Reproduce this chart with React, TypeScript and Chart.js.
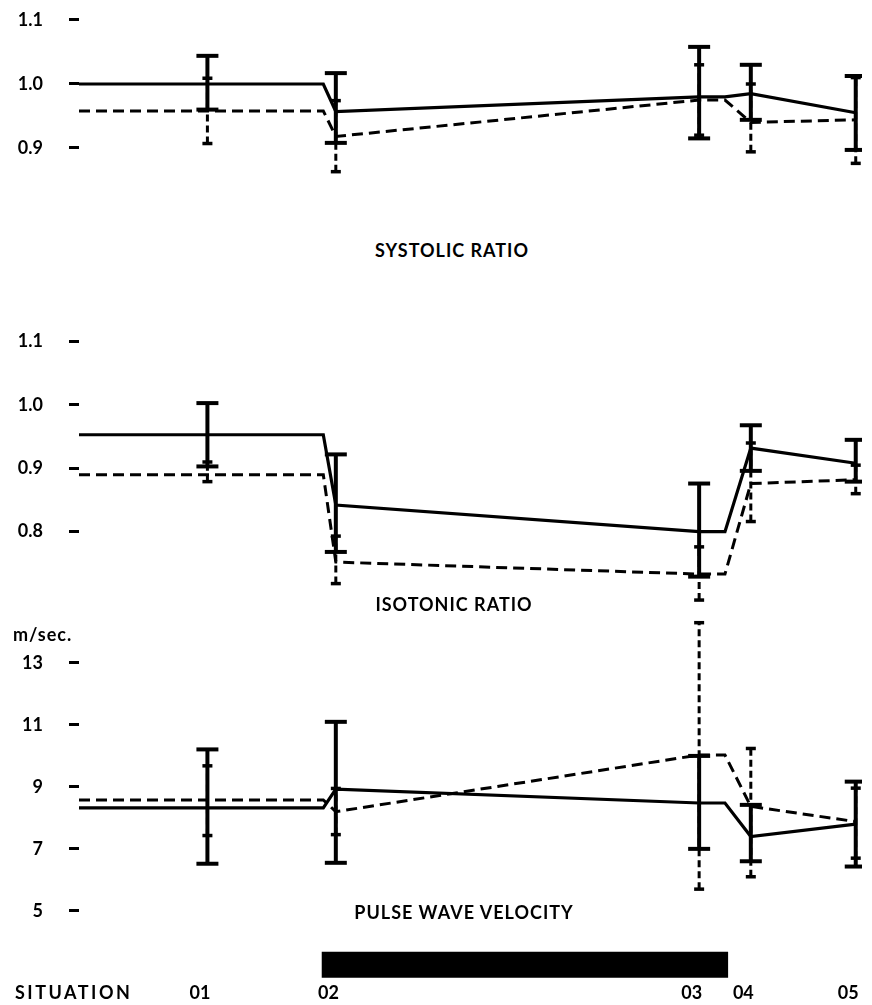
import React, { useEffect, useRef } from "react";
import { Chart, registerables } from "chart.js";

Chart.register(...registerables);

// ---- shared x data ----
const situations = ["01", "02", "03", "04", "05"];
const situationTime = [16.4, 32.8, 79.2, 85.8, 99.2];
const traceStart = 0;
const holdBefore2 = 31.2;
const holdAfter3 = 82.5;
const barStart = 31.0;
const barEnd = 82.9;
const barLevel = 3.26;

// ---- systolic ratio ----
const sysSolid = [1.0, 0.957, 0.98, 0.985, 0.955];
const sysSolidLow = [0.96, 0.908, 0.915, 0.944, 0.897];
const sysSolidHigh = [1.044, 1.017, 1.058, 1.03, 1.0125];
const sysDashed = [0.958, 0.918, 0.975, 0.94, 0.944];
const sysDashedLow = [0.907, 0.863, 0.92, 0.894, 0.876];
const sysDashedHigh = [1.009, 0.974, 1.03, 1.0, 1.01];
const sysTicks = [0.9, 1.0, 1.1];

// ---- isotonic ratio ----
const isoSolid = [0.953, 0.842, 0.8, 0.932, 0.908];
const isoSolidLow = [0.903, 0.768, 0.729, 0.896, 0.879];
const isoSolidHigh = [1.003, 0.922, 0.876, 0.968, 0.945];
const isoDashed = [0.89, 0.752, 0.733, 0.876, 0.882];
const isoDashedLow = [0.879, 0.718, 0.692, 0.816, 0.86];
const isoDashedHigh = [0.91, 0.793, 0.776, 0.94, 0.905];
const isoTicks = [0.8, 0.9, 1.0, 1.1];

// ---- pulse wave velocity (m/sec.) ----
const pwvSolid = [8.32, 8.93, 8.48, 7.4, 7.8];
const pwvSolidLow = [6.52, 6.55, 7.0, 6.6, 6.43];
const pwvSolidHigh = [10.21, 11.1, 10.0, 8.42, 9.17];
const pwvDashed = [8.58, 8.2, 10.03, 8.37, 7.88];
const pwvDashedLow = [7.43, 7.46, 5.7, 6.1, 6.7];
const pwvDashedHigh = [9.68, 8.95, 14.3, 10.24, 8.96];
const pwvTicks = [5, 7, 9, 11, 13];

const INK = "#000";
const FONT_FAMILY = "Lato, 'DejaVu Sans', sans-serif";
const tickFont = { family: FONT_FAMILY, size: 18, weight: "bold" as const };

function trace(v: number[]) {
  return [
    { x: traceStart, y: v[0] },
    { x: situationTime[0], y: v[0] },
    { x: holdBefore2, y: v[0] },
    { x: situationTime[1], y: v[1] },
    { x: situationTime[2], y: v[2] },
    { x: holdAfter3, y: v[2] },
    { x: situationTime[3], y: v[3] },
    { x: situationTime[4], y: v[4] },
  ];
}

function lineDataset(v: number[], dashed: boolean) {
  return {
    type: "line",
    data: trace(v),
    borderColor: INK,
    borderWidth: dashed ? 3 : 3.2,
    borderDash: dashed ? [11, 6] : [],
    pointRadius: 0,
    tension: 0,
    fill: false,
  };
}

function errorBars(low: number[], high: number[], dashed: boolean) {
  return situationTime.map((t, i) => ({
    type: "line",
    data: [
      { x: t, y: low[i] },
      { x: t, y: high[i] },
    ],
    borderColor: INK,
    borderWidth: dashed ? 3 : 4,
    borderDash: dashed ? [7, 4] : [],
    pointStyle: "line",
    pointRadius: dashed ? 5 : 11,
    pointBorderWidth: dashed ? 3.5 : 4,
    pointBorderColor: INK,
    pointBackgroundColor: INK,
    fill: false,
  }));
}

function makeConfig(
  datasets: any[],
  yMin: number,
  yMax: number,
  ticks: number[],
  fmt: (v: number) => string,
  showX: boolean,
  padBottom: number
) {
  return {
    type: "line",
    data: { datasets },
    options: {
      animation: false,
      responsive: false,
      events: [],
      layout: { autoPadding: false, padding: { top: 40, bottom: padBottom, left: 0, right: 10 } },
      plugins: {
        legend: { display: false },
        tooltip: { enabled: false },
        title: { display: false },
      },
      scales: {
        x: {
          type: "linear",
          min: 0,
          max: 100,
          display: showX,
          grid: { display: false, drawTicks: false },
          border: { display: false },
          afterBuildTicks: (s: any) => {
            s.ticks = situationTime.map((v) => ({ value: v }));
          },
          afterFit: (s: any) => {
            s.height = showX ? 26 : 0;
          },
          ticks: {
            callback: (_v: any, i: number) => situations[i],
            align: "end",
            labelOffset: 3,
            padding: 3,
            autoSkip: false,
            maxRotation: 0,
            color: INK,
            font: tickFont,
          },
        },
        y: {
          type: "linear",
          min: yMin,
          max: yMax,
          afterBuildTicks: (s: any) => {
            s.ticks = ticks.map((v) => ({ value: v }));
          },
          afterFit: (s: any) => {
            s.width = 79;
          },
          ticks: {
            callback: (v: any) => fmt(Number(v)),
            padding: 26,
            color: INK,
            font: tickFont,
          },
          grid: {
            display: true,
            drawOnChartArea: false,
            drawTicks: true,
            tickLength: 10,
            tickWidth: 3,
            color: INK,
          },
          border: { display: false },
        },
      },
    },
  };
}

const ratioFmt = (v: number) => v.toFixed(1);
const pwvFmt = (v: number) => String(v);

function Panel(props: { config: any; top: number; height: number }) {
  const ref = useRef<HTMLCanvasElement | null>(null);
  useEffect(() => {
    if (!ref.current) return;
    const chart = new Chart(ref.current, props.config);
    return () => chart.destroy();
  }, []);
  return (
    <canvas
      ref={ref}
      width={872}
      height={props.height}
      style={{ position: "absolute", left: 0, top: props.top, width: 872, height: props.height }}
    />
  );
}

const textStyle: React.CSSProperties = {
  position: "absolute",
  fontFamily: FONT_FAMILY,
  fontWeight: 700,
  fontSize: 18,
  lineHeight: "20px",
  letterSpacing: 1,
  color: INK,
  whiteSpace: "nowrap",
};

export default function App() {
  const sysConfig = makeConfig(
    [
      lineDataset(sysSolid, false),
      lineDataset(sysDashed, true),
      ...errorBars(sysSolidLow, sysSolidHigh, false),
      ...errorBars(sysDashedLow, sysDashedHigh, true),
    ],
    0.85,
    1.125,
    sysTicks,
    ratioFmt,
    false,
    40
  );
  const isoConfig = makeConfig(
    [
      lineDataset(isoSolid, false),
      lineDataset(isoDashed, true),
      ...errorBars(isoSolidLow, isoSolidHigh, false),
      ...errorBars(isoDashedLow, isoDashedHigh, true),
    ],
    0.67,
    1.15,
    isoTicks,
    ratioFmt,
    false,
    40
  );
  const pwvConfig = makeConfig(
    [
      {
        type: "line",
        data: [
          { x: barStart, y: barLevel },
          { x: barEnd, y: barLevel },
        ],
        borderColor: INK,
        borderWidth: 26,
        borderCapStyle: "butt",
        pointRadius: 0,
        fill: false,
      },
      lineDataset(pwvSolid, false),
      lineDataset(pwvDashed, true),
      ...errorBars(pwvSolidLow, pwvSolidHigh, false),
      ...errorBars(pwvDashedLow, pwvDashedHigh, true),
    ],
    2.8,
    15,
    pwvTicks,
    pwvFmt,
    true,
    14
  );

  return (
    <div
      style={{
        position: "absolute",
        left: 0,
        top: 0,
        width: 872,
        height: 1005,
        overflow: "hidden",
        background: "#fff",
      }}
    >
      <Panel config={sysConfig} top={-36} height={256} />
      <Panel config={isoConfig} top={270} height={384} />
      <Panel config={pwvConfig} top={561} height={458} />
      <div style={{ ...textStyle, left: 252, width: 400, textAlign: "center", top: 240 }}>
        SYSTOLIC RATIO
      </div>
      <div style={{ ...textStyle, left: 254, width: 400, textAlign: "center", top: 594 }}>
        ISOTONIC RATIO
      </div>
      <div style={{ ...textStyle, left: 13, top: 624 }}>m/sec.</div>
      <div style={{ ...textStyle, left: 264, width: 400, textAlign: "center", top: 902 }}>
        PULSE WAVE VELOCITY
      </div>
      <div style={{ ...textStyle, left: 15, top: 982, letterSpacing: 2.5 }}>SITUATION</div>
    </div>
  );
}
